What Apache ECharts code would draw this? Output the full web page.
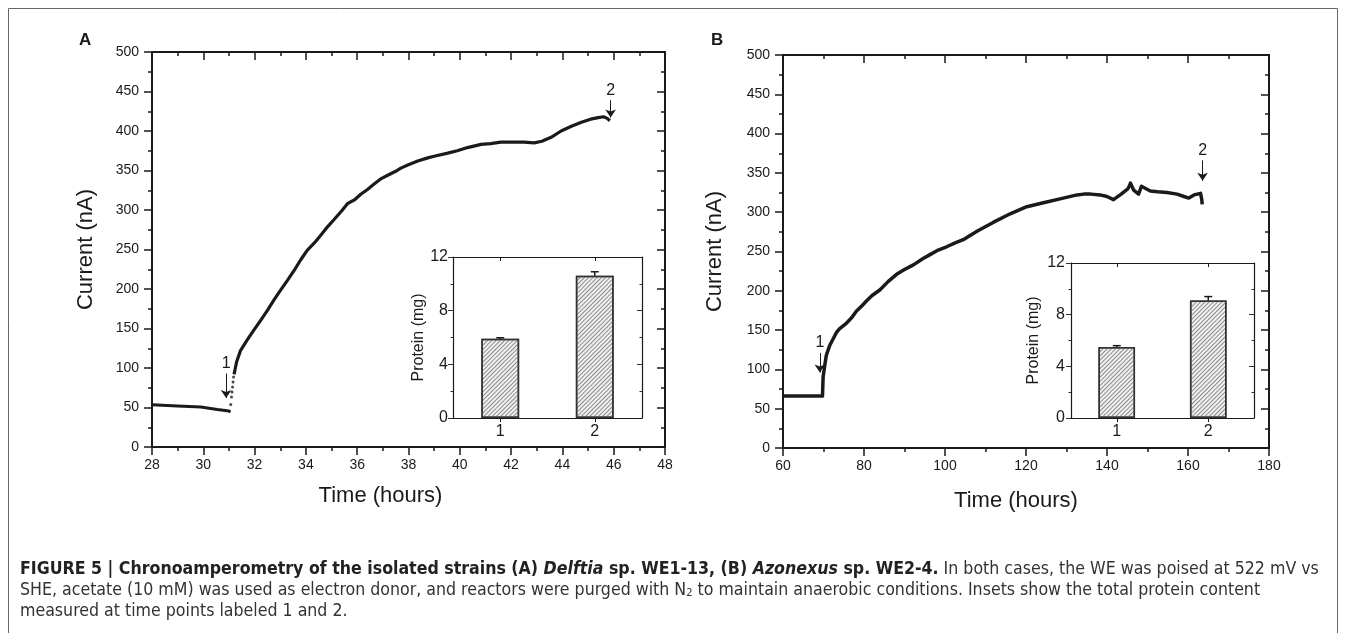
<!DOCTYPE html>
<html>
<head>
<meta charset="utf-8">
<script src="https://cdn.jsdelivr.net/npm/echarts@6/dist/echarts.min.js"></script>
<style>
html, body { margin: 0; padding: 0; background: #fff; }
#chart { width: 1346px; height: 633px; }
</style>
</head>
<body>
<div id="chart"></div>
<script>
// panel A: Delftia sp. WE1-13
var timeA = [28, 29, 29.9, 30.55, 31.0, 31.06,
    31.2, 31.3, 31.45, 31.7, 31.97, 32.23, 32.5, 32.75, 33.0, 33.28, 33.55, 33.8,
    34.05, 34.32, 34.58, 34.85, 35.1, 35.4, 35.62, 35.9, 36.14, 36.4, 36.66, 36.9,
    37.19, 37.5, 37.7, 37.97, 38.36, 38.75, 39.0, 39.53, 39.9, 40.3, 40.83, 41.2,
    41.6, 42.0, 42.5, 42.9, 43.2, 43.56, 43.95, 44.35, 44.74, 45.1, 45.4, 45.6,
    45.75, 45.85];
var currentA = [53.5, 52, 50.5, 47.5, 45.5, 44.5,
    92, 108, 122, 135, 148, 160, 173, 186, 198, 211, 224, 237,
    249, 258, 268, 279, 288, 299, 308, 313, 320, 326, 333, 339,
    344, 349, 353, 357, 362, 366, 368, 372, 375, 379, 383, 384,
    386, 386, 386, 385, 387, 392, 400, 406, 411, 415, 417, 418,
    416, 413];
// sparse dots of the jump right after point 1
var jumpTimeA = [31.07, 31.1, 31.12, 31.14, 31.16, 31.18];
var jumpCurrentA = [53.7, 63.4, 69.7, 76, 82.4, 88.7];

// panel B: Azonexus sp. WE2-4
var timeB = [60, 65, 69.75, 69.9, 70.3, 70.7, 71.5, 72.4, 73.2, 74, 75.7, 77,
    78.1, 79.5, 80.6, 82, 83.9, 86, 88.05, 90, 92.2, 94.6, 96.3, 98, 100.4,
    102.5, 104.5, 108, 111.9, 116.1, 120.2, 124.3, 128.4, 132.6, 134.3, 136,
    138.3, 140, 141.6, 143.5, 145.2, 145.8, 146.6, 147.8, 148.5, 148.9, 150.7,
    152.5, 154.8, 157.3, 159, 160.2, 161.5, 163.1, 163.4, 163.5];
var currentB = [66, 66, 66, 90, 105, 118, 130, 139, 147, 152, 159, 166,
    174, 181, 187, 194, 201, 212, 221, 227, 233, 241, 246, 251, 256,
    261, 265, 276, 287, 298, 307, 312, 317, 322, 323, 323,
    322, 320, 316, 323, 330, 337, 328, 323, 333, 334, 327,
    326, 325, 323, 320, 318, 322, 324, 316, 310];

// insets: protein at time points 1 and 2
var insetCategories = ['1', '2'];
var proteinA = [5.9, 10.6];
var proteinErrA = [0.08, 0.3];
var proteinB = [5.5, 9.1];
var proteinErrB = [0.1, 0.3];

// arrow annotations [label, time, from current, to current]
var arrowsA = [['1', 30.89, 93, 62], ['2', 45.88, 439, 417]];
var arrowsB = [['1', 69.1, 121, 96], ['2', 163.6, 366, 340]];

var ink = '#1a1a1a';
var font = "'Liberation Sans', Arial, sans-serif";
var capFont = "'DejaVu Sans Condensed', 'Liberation Sans', sans-serif";
var capSize = 17.6;

function pairs(xs, ys) {
    return xs.map(function (x, i) { return [x, ys[i]]; });
}

function tickStyle(len, inside, w) {
    return { show: true, inside: inside, length: len, lineStyle: { color: ink, width: w } };
}

// value axis with its mirrored twin on the opposite side of the frame
function valueAxes(grid, min, max, step, pos, mirrorPos, o) {
    var lw = o.lineWidth;
    var main = {
        type: 'value', gridIndex: grid, min: min, max: max, interval: step, position: pos,
        name: o.name, nameLocation: 'middle', nameGap: o.nameGap,
        nameTextStyle: { fontSize: o.nameSize, color: ink, fontFamily: font, padding: o.namePad || 0 },
        axisLine: { show: true, onZero: false, lineStyle: { color: ink, width: lw } },
        axisTick: tickStyle(o.tick, false, lw * 0.75),
        minorTick: { show: true, splitNumber: 2, length: o.tick / 2, lineStyle: { color: ink, width: lw * 0.75 } },
        axisLabel: { margin: o.labelMargin, fontSize: o.labelSize, color: ink, fontFamily: font },
        splitLine: { show: false }, minorSplitLine: { show: false }
    };
    var mirror = {
        type: 'value', gridIndex: grid, min: min, max: max, interval: step, position: mirrorPos,
        axisLine: { show: true, onZero: false, lineStyle: { color: ink, width: lw } },
        axisTick: tickStyle(o.tick, true, lw * 0.75),
        minorTick: { show: true, splitNumber: 2, length: o.tick / 2, lineStyle: { color: ink, width: lw * 0.75 } },
        axisLabel: { show: false }, splitLine: { show: false }, minorSplitLine: { show: false }
    };
    return [main, mirror];
}

function categoryAxes(grid) {
    var base = {
        type: 'category', gridIndex: grid, data: insetCategories, boundaryGap: true,
        axisLine: { show: true, onZero: false, lineStyle: { color: ink, width: 1.2 } },
        splitLine: { show: false }
    };
    var bottom = Object.assign({}, base, {
        position: 'bottom',
        axisTick: { show: true, alignWithLabel: true, length: 4, lineStyle: { color: ink, width: 1 } },
        axisLabel: { margin: 6, fontSize: 16, color: ink, fontFamily: font }
    });
    var top = Object.assign({}, base, {
        position: 'top',
        axisTick: { show: true, inside: true, alignWithLabel: true, length: 4, lineStyle: { color: ink, width: 1 } },
        axisLabel: { show: false }
    });
    return [bottom, top];
}

var hatch = {
    symbol: 'rect', symbolSize: 1, color: '#8c8c8c',
    dashArrayX: [1, 0], dashArrayY: [1, 2], rotation: -Math.PI / 4
};

function barSeries(xi, yi, values) {
    return {
        type: 'bar', xAxisIndex: xi, yAxisIndex: yi, data: values, barWidth: '40%',
        itemStyle: { color: '#f0f0f0', borderColor: '#333', borderWidth: 1.5, decal: hatch },
        silent: true
    };
}

function errorSeries(xi, yi, values, errs) {
    return {
        type: 'custom', xAxisIndex: xi, yAxisIndex: yi, z: 5, silent: true,
        data: values.map(function (v, i) { return [i, v, errs[i]]; }),
        renderItem: function (params, api) {
            var p1 = api.coord([api.value(0), api.value(1)]);
            var p2 = api.coord([api.value(0), api.value(1) + api.value(2)]);
            var s = { stroke: ink, lineWidth: 1.5 };
            return {
                type: 'group', children: [
                    { type: 'line', shape: { x1: p1[0], y1: p1[1], x2: p2[0], y2: p2[1] }, style: s },
                    { type: 'line', shape: { x1: p2[0] - 4, y1: p2[1], x2: p2[0] + 4, y2: p2[1] }, style: s }
                ]
            };
        }
    };
}

function arrowMarks(list) {
    return {
        silent: true, animation: false, symbol: ['none', 'arrow'], symbolSize: 8,
        lineStyle: { type: 'solid', color: ink, width: 1 },
        label: { show: true, position: 'start', distance: 2, fontSize: 16, color: ink, fontFamily: font },
        data: list.map(function (a) {
            return [{ coord: [a[1], a[2]], label: { formatter: a[0] } }, { coord: [a[1], a[3]] }];
        })
    };
}

var xA = valueAxes(0, 28, 48, 2, 'bottom', 'top',
    { name: 'Time (hours)', nameGap: 38, nameSize: 22, namePad: [0, 56, 0, 0], lineWidth: 2, tick: 8, labelMargin: 11, labelSize: 14 });
var yA = valueAxes(0, 0, 500, 50, 'left', 'right',
    { name: 'Current (nA)', nameGap: 55, nameSize: 22, lineWidth: 2, tick: 8, labelMargin: 13, labelSize: 14 });
var yAi = valueAxes(1, 0, 12, 4, 'left', 'right',
    { name: 'Protein (mg)', nameGap: 21, nameSize: 16, lineWidth: 1.2, tick: 5, labelMargin: 5, labelSize: 16 });
var xAi = categoryAxes(1);

var xB = valueAxes(2, 60, 180, 20, 'bottom', 'top',
    { name: 'Time (hours)', nameGap: 42, nameSize: 22, namePad: [0, 20, 0, 0], lineWidth: 2, tick: 8, labelMargin: 11, labelSize: 14 });
var yB = valueAxes(2, 0, 500, 50, 'left', 'right',
    { name: 'Current (nA)', nameGap: 57, nameSize: 22, lineWidth: 2, tick: 8, labelMargin: 13, labelSize: 14 });
var yBi = valueAxes(3, 0, 12, 4, 'left', 'right',
    { name: 'Protein (mg)', nameGap: 29, nameSize: 16, lineWidth: 1.2, tick: 5, labelMargin: 6, labelSize: 16 });
var xBi = categoryAxes(3);

var chart = echarts.init(document.getElementById('chart'));
var option = {
    animation: false,
    backgroundColor: '#fff',
    grid: [
        { left: 152, top: 52, width: 513, height: 395 },
        { left: 453, top: 257, width: 189, height: 161 },
        { left: 783, top: 55, width: 486, height: 393 },
        { left: 1071, top: 263, width: 183, height: 155 }
    ],
    xAxis: [xA[0], xA[1], xAi[0], xAi[1], xB[0], xB[1], xBi[0], xBi[1]],
    yAxis: [yA[0], yA[1], yAi[0], yAi[1], yB[0], yB[1], yBi[0], yBi[1]],
    series: [
        {
            type: 'line', xAxisIndex: 0, yAxisIndex: 0, data: pairs(timeA, currentA).slice(0, 6),
            showSymbol: false, lineStyle: { color: ink, width: 3 }, silent: true
        },
        {
            type: 'line', xAxisIndex: 0, yAxisIndex: 0, data: pairs(timeA, currentA).slice(6),
            showSymbol: false, lineStyle: { color: ink, width: 3.2 }, silent: true,
            markLine: arrowMarks(arrowsA)
        },
        {
            type: 'scatter', xAxisIndex: 0, yAxisIndex: 0, data: pairs(jumpTimeA, jumpCurrentA),
            symbolSize: 3, itemStyle: { color: ink }, silent: true
        },
        barSeries(2, 2, proteinA),
        errorSeries(2, 2, proteinA, proteinErrA),
        {
            type: 'line', xAxisIndex: 4, yAxisIndex: 4, data: pairs(timeB, currentB),
            showSymbol: false, lineStyle: { color: ink, width: 3.5, join: 'round' }, silent: true,
            markLine: arrowMarks(arrowsB)
        },
        barSeries(6, 6, proteinB),
        errorSeries(6, 6, proteinB, proteinErrB)
    ],
    graphic: [
        { type: 'rect', shape: { x: 8.5, y: 8.5, width: 1329, height: 640 }, style: { fill: null, stroke: '#666', lineWidth: 1 }, silent: true },
        { type: 'text', left: 79, top: 32, style: { text: 'A', font: 'bold 17px ' + font, fill: ink } },
        { type: 'text', left: 711, top: 32, style: { text: 'B', font: 'bold 17px ' + font, fill: ink } },
        {
            type: 'text', left: 20, top: 560,
            style: {
                text: '{b|FIGURE 5 | Chronoamperometry of the isolated strains (A) }{bi|Delftia}{b| sp. WE1-13, (B) }{bi|Azonexus}{b| sp. WE2-4.}{r| In both cases, the WE was poised at 522 mV vs}',
                rich: {
                    b: { fontFamily: capFont, fontSize: capSize, fontWeight: 'bold', fill: '#222' },
                    bi: { fontFamily: capFont, fontSize: capSize, fontWeight: 'bold', fontStyle: 'italic', fill: '#222' },
                    r: { fontFamily: capFont, fontSize: capSize, fill: '#333' }
                }
            }
        },
        {
            type: 'text', left: 20, top: 581,
            style: {
                text: '{r|SHE, acetate (10 mM) was used as electron donor, and reactors were purged with N}{s|2}{r| to maintain anaerobic conditions. Insets show the total protein content}',
                rich: {
                    r: { fontFamily: capFont, fontSize: capSize, fill: '#333' },
                    s: { fontFamily: capFont, fontSize: 11, fill: '#333', padding: [7, 0, 0, 0] }
                }
            }
        },
        {
            type: 'text', left: 20, top: 602,
            style: { text: 'measured at time points labeled 1 and 2.', fontFamily: capFont, fontSize: capSize, fill: '#333' }
        }
    ]
};
chart.setOption(option);
</script>
</body>
</html>
